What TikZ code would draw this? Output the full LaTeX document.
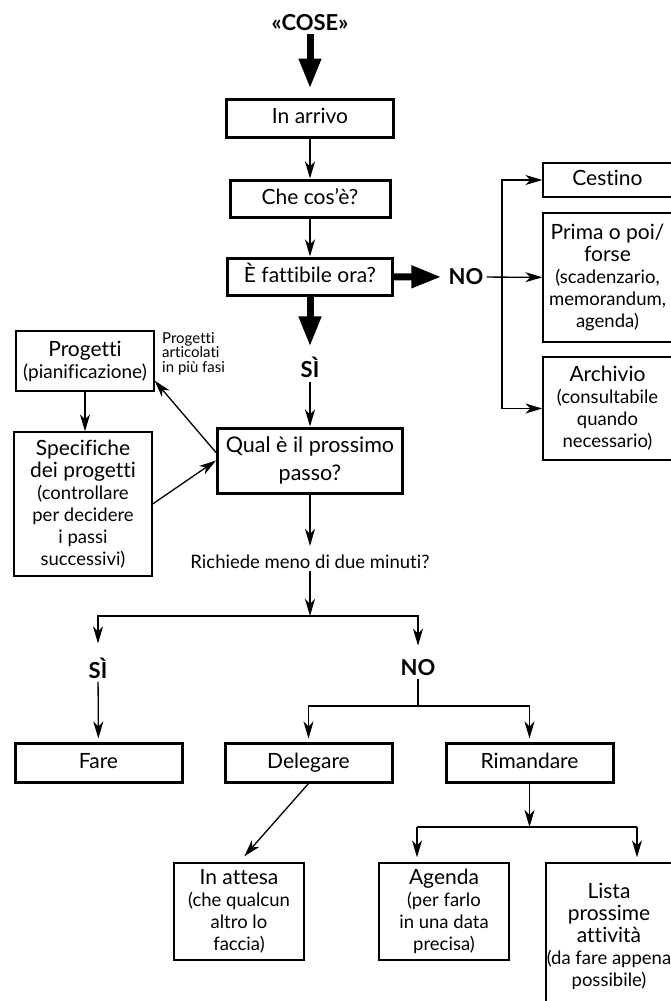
\documentclass[tikz,border=0pt]{standalone}
\usepackage{fontspec}
\setmainfont{Lato}[Ligatures={NoCommon}]
\usetikzlibrary{arrows.meta,calc}
\newcommand\mainsz{\fontsize{21}{22}\selectfont}
\newcommand\subsz{\fontsize{18.5}{20}\selectfont}
\newcommand\midsz{\fontsize{19}{21}\selectfont}
\begin{document}
\begin{tikzpicture}[x=1pt,y=-1pt,
  thickbox/.style={draw, line width=3pt, inner sep=0pt, align=center, font=\mainsz},
  thinbox/.style={draw, line width=1.3pt, inner sep=0pt, align=center, font=\mainsz},
  oneline/.style={text height=15pt, text depth=4pt},
  arr/.style={line width=1.3pt, -{Stealth[length=17pt,width=10pt,inset=5pt]}},
  bigarr/.style={line width=7pt, -{Triangle[length=30pt,width=21pt]}},
  lbl/.style={inner sep=0pt, font=\bfseries\fontsize{22}{24}\selectfont},
  plain/.style={line width=1.3pt}]
\useasboundingbox (0,0) rectangle (671,1001);

% main column
\node[lbl] (cose) at (310,23) {«COSE»};
\node[thickbox, oneline, minimum width=167pt, minimum height=38pt] (inarrivo) at (310,118) {In arrivo};
\node[thickbox, oneline, minimum width=160pt, minimum height=37pt] (checos) at (310,198.5) {Che cos’è?};
\node[thickbox, oneline, minimum width=165pt, minimum height=37pt] (fatt) at (310,276.5) {È fattibile ora?};
\node[lbl] (no1) at (466,277) {NO};
\node[lbl] (si1) at (310,367) {SÌ};
\node[thickbox, minimum width=185pt, minimum height=65pt, font=\fontsize{21.5}{28}\selectfont] (qual) at (310,460.5) {Qual è il prossimo\\passo?};

% right column
\node[thinbox, oneline, minimum width=129pt, minimum height=34pt] (cestino) at (607.5,180) {Cestino};
\node[thinbox, minimum width=129pt, minimum height=129pt] (prima) at (607.5,277.5)
  {\mainsz Prima o poi/\\\mainsz forse\\\subsz (scadenzario,\\\subsz memorandum,\\\subsz agenda)};
\node[thinbox, minimum width=129pt, minimum height=103pt] (archivio) at (607.5,408.5)
  {\mainsz Archivio\\\subsz (consultabile\\\subsz quando\\\subsz necessario)};

% left column
\node[thinbox, minimum width=138pt, minimum height=60pt] (progetti) at (85,361) {\mainsz Progetti\\\midsz (pianificazione)};
\node[font=\fontsize{15}{14.5}\selectfont, align=left, anchor=north west, inner sep=0pt] (artic) at (162,332) {Progetti\\articolati\\in più fasi};
\node[thinbox, minimum width=138pt, minimum height=144pt] (spec) at (83,504)
  {\mainsz Specifiche\\\mainsz dei progetti\\\subsz (controllare\\\subsz per decidere\\\subsz i passi\\\subsz successivi)};

% two-minute question
\node[font=\fontsize{18.5}{20}\selectfont, inner sep=0pt] (rich) at (310,562) {Richiede meno di due minuti?};
\coordinate (j1) at (310,616);
\node[lbl] (si2) at (98,668) {SÌ};
\node[lbl] (no2) at (418,668) {NO};
\coordinate (j2) at (418,706);

\node[thickbox, oneline, minimum width=167pt, minimum height=39pt] (fare) at (98.5,762.5) {Fare};
\node[thickbox, oneline, minimum width=167pt, minimum height=39pt] (delegare) at (308.5,762.5) {Delegare};
\node[thickbox, oneline, minimum width=167pt, minimum height=39pt] (rimandare) at (529.5,762.5) {Rimandare};

\coordinate (j3) at (529.5,827);
\coordinate (ja) at (417,827);
\coordinate (jl) at (637,827);

\node[thinbox, minimum width=130pt, minimum height=97pt] (attesa) at (239,911.5)
  {\mainsz In attesa\\\subsz (che qualcun\\\subsz altro lo\\\subsz faccia)};
\node[thinbox, minimum width=130pt, minimum height=97pt] (agenda) at (444,911.5)
  {\mainsz Agenda\\\subsz (per farlo\\\subsz in una data\\\subsz precisa)};
\node[thinbox, minimum width=126pt, minimum height=147pt] (lista) at (609,936.5)
  {\mainsz Lista\\\mainsz prossime\\\mainsz attività\\\subsz (da fare appena\\\subsz possibile)};

% connectors
\draw[bigarr, shorten >=9pt, shorten <=3pt] (cose) -- (inarrivo);
\draw[arr] (inarrivo) -- (checos);
\draw[arr] (checos) -- (fatt);
\draw[bigarr, shorten >=7pt] (fatt) -- (no1);
\coordinate (br) at (502,277);
\draw[arr, shorten <=3pt] (no1) -- (prima);
\draw[arr] (br) |- (cestino.west);
\draw[arr] (br) |- (archivio.west);
\draw[bigarr, shorten >=10pt] (fatt) -- (si1);
\draw[arr, shorten <=4pt] (si1) -- (qual);
\draw[arr] ($(qual.west)+(0,-8)$) -- ($(progetti.south east)+(0,-11)$);
\draw[arr] (spec.east) -- (qual.west);
\draw[arr] (progetti.south) -- (progetti.south |- spec.north);
\draw[arr, shorten >=9pt] (qual) -- (rich);
\draw[arr, shorten <=2pt] (rich) -- (j1);
\draw[arr, shorten >=14pt] (j1) -| (si2);
\draw[arr, shorten >=14pt] (j1) -| (no2);
\draw[arr, shorten <=3pt, shorten >=3pt] (si2) -- (fare);
\draw[plain, shorten <=3pt] (no2) -- (j2);
\draw[arr, shorten >=3pt] (j2) -| (delegare);
\draw[arr, shorten >=3pt] (j2) -| (rimandare);
\draw[arr, shorten >=8pt] (delegare.south) -- (attesa.north);
\draw[arr] (rimandare) -- (j3);
\draw[plain] (ja) -- (jl);
\draw[arr, shorten >=5pt] (ja) -- (ja |- agenda.north);
\draw[arr, shorten >=5pt] (jl) -- (jl |- lista.north);
\end{tikzpicture}
\end{document}
